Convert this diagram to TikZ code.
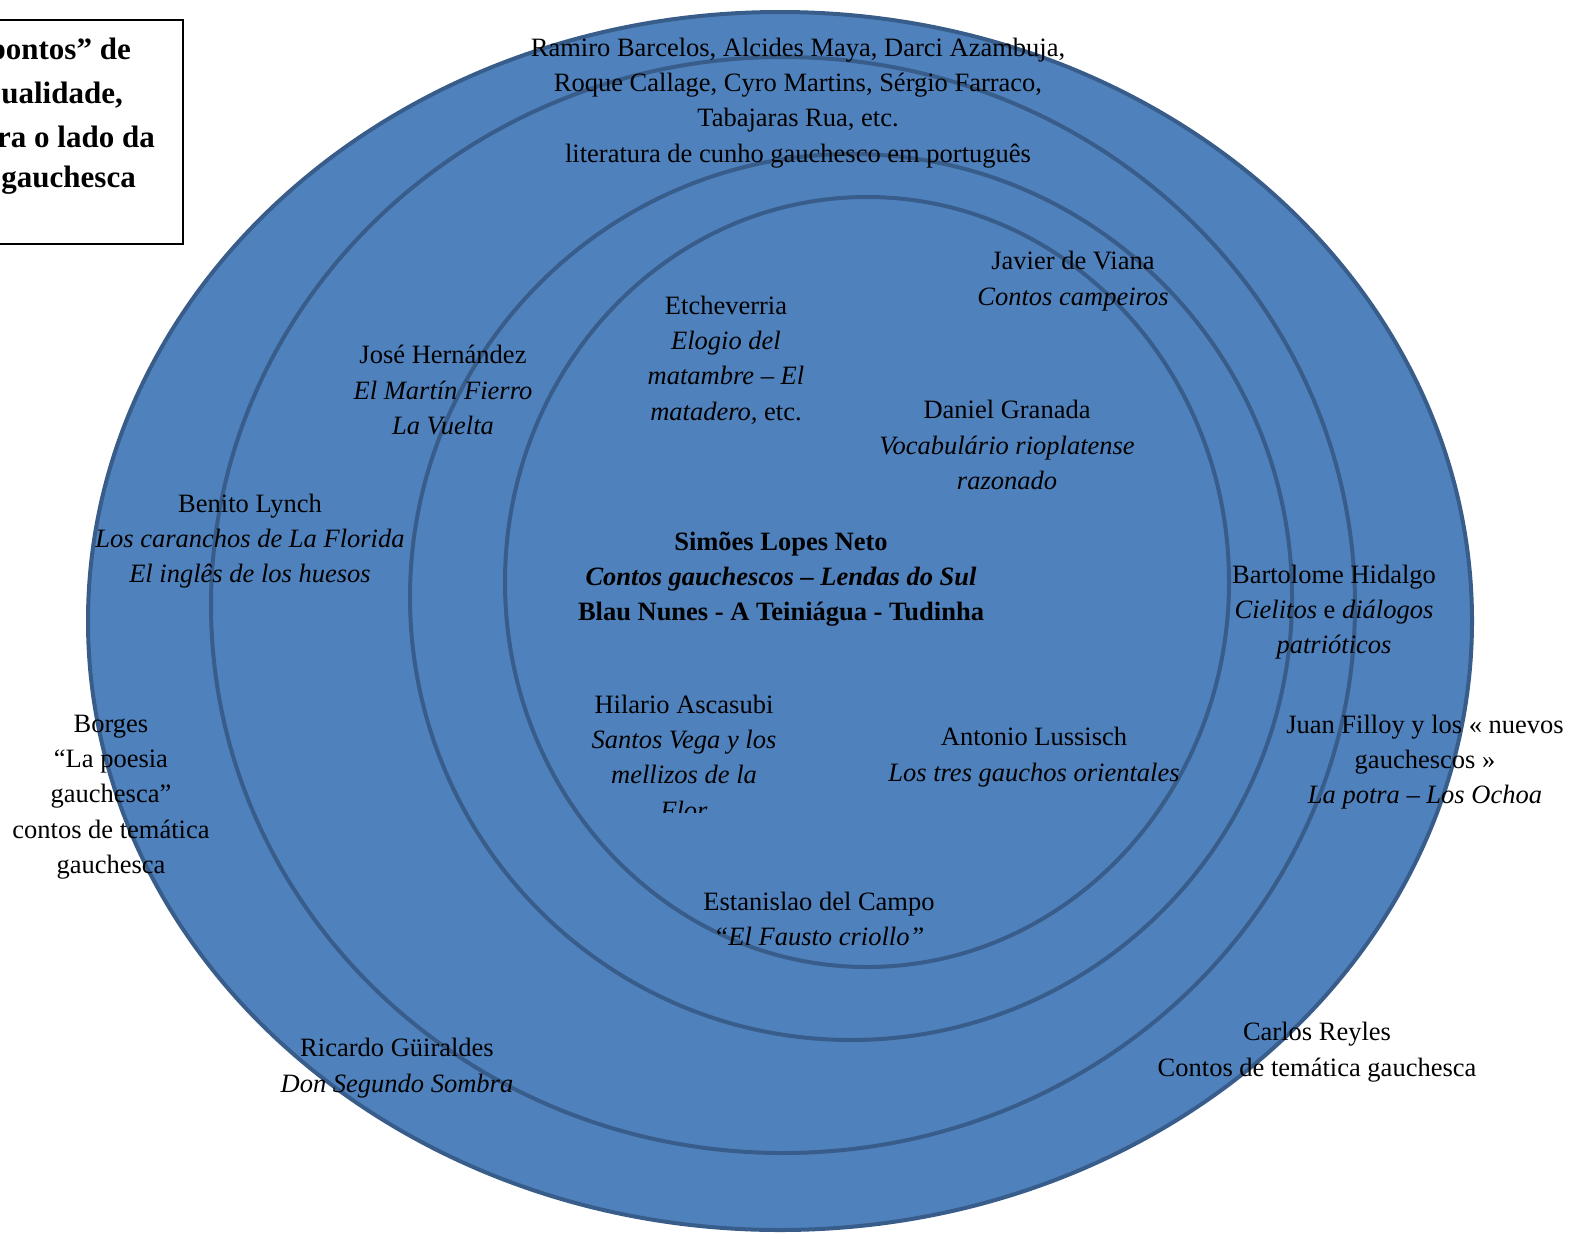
\documentclass[tikz,border=0pt]{standalone}
\usepackage{fontspec}
\setmainfont{Liberation Serif}
\usetikzlibrary{positioning}
\definecolor{ringfill}{HTML}{4F81BD}
\definecolor{ringline}{HTML}{385D8A}

\begin{document}
\begin{tikzpicture}[x=1pt, y=-1pt,
    ring/.style={fill=ringfill, draw=ringline, line width=4pt},
    lbl/.style={align=center, inner sep=0pt, yshift=-4pt, font=\fontsize{26.5}{35.3}\selectfont},
    boxtxt/.style={anchor=east, inner sep=0pt, yshift=-2pt, font=\fontsize{31}{42.7}\selectfont\bfseries}]
    \useasboundingbox (0,0) rectangle (1570,1237);
    \clip (0,0) rectangle (1570,1237);

    % 1. Anelli concentrici
    \draw[ring] (780,621) ellipse [x radius=692pt, y radius=609pt];
    \draw[ring] (783,605) ellipse [x radius=572pt, y radius=548pt];
    \draw[ring] (851,597) ellipse [x radius=441pt, y radius=443pt];
    \draw[ring] (867,582) ellipse [x radius=362pt, y radius=385pt];

    % 2. Riquadro in alto a sinistra
    \draw[line width=2pt] (-300,20) rectangle (183,244);
    \node[boxtxt] (box1) at (131,50) {pontos” de};
    \node[boxtxt] (box2) at (123,93) {ualidade,};
    \node[boxtxt] (box3) at (155,135) {ra o lado da};
    \node[boxtxt] (box4) at (136,178) {gauchesca};

    % 3. Centro
    \node[lbl, font=\fontsize{26.5}{35.3}\selectfont\bfseries] (simoes) at (781,575)
        {Simões Lopes Neto\\ \textit{Contos gauchescos – Lendas do Sul}\\ Blau Nunes - A Teiniágua - Tudinha};

    % 4. Autori
    \node[lbl] (ramiro) at (798,99)
        {Ramiro Barcelos, Alcides Maya, Darci Azambuja,\\ Roque Callage, Cyro Martins, Sérgio Farraco,\\ Tabajaras Rua, etc.\\ literatura de cunho gauchesco em português};
    \node[lbl] (viana) at (1073,277) {Javier de Viana\\ \textit{Contos campeiros}};
    \node[lbl] (etcheverria) at (726,356)
        {Etcheverria\\ \textit{Elogio del}\\ \textit{matambre – El}\\ \textit{matadero,} etc.};
    \node[lbl] (hernandez) at (443,386) {José Hernández\\ \textit{El Martín Fierro}\\ \textit{La Vuelta}};
    \node[lbl] (granada) at (1007,441) {Daniel Granada\\ \textit{Vocabulário rioplatense}\\ \textit{razonado}};
    \node[lbl] (lynch) at (250,537) {Benito Lynch\\ \textit{Los caranchos de La Florida}\\ \textit{El inglês de los huesos}};
    \node[lbl] (hidalgo) at (1334,608) {Bartolome Hidalgo\\ \textit{Cielitos} e \textit{diálogos}\\ \textit{patrióticos}};
    \begin{scope}
        \clip (450,600) rectangle (920,812);
        \node[lbl] (ascasubi) at (684,753) {Hilario Ascasubi\\ \textit{Santos Vega y los}\\ \textit{mellizos de la}\\ \textit{Flor}};
    \end{scope}
    \node[lbl] (lussich) at (1034,753) {Antonio Lussisch\\ \textit{Los tres gauchos orientales}};
    \node[lbl] (borges) at (111,793) {Borges\\ “La poesia\\ gauchesca”\\ contos de temática\\ gauchesca};
    \node[lbl] (filloy) at (1425,758) {Juan Filloy y los « nuevos\\ gauchescos »\\ \textit{La potra – Los Ochoa}};
    \node[lbl] (campo) at (819,915) {Estanislao del Campo\\ \textit{“El Fausto criollo”}};
    \node[lbl] (reyles) at (1317,1048) {Carlos Reyles\\ Contos de temática gauchesca};
    \node[lbl] (guiraldes) at (397,1064) {Ricardo Güiraldes\\ \textit{Don Segundo Sombra}};
\end{tikzpicture}
\end{document}
